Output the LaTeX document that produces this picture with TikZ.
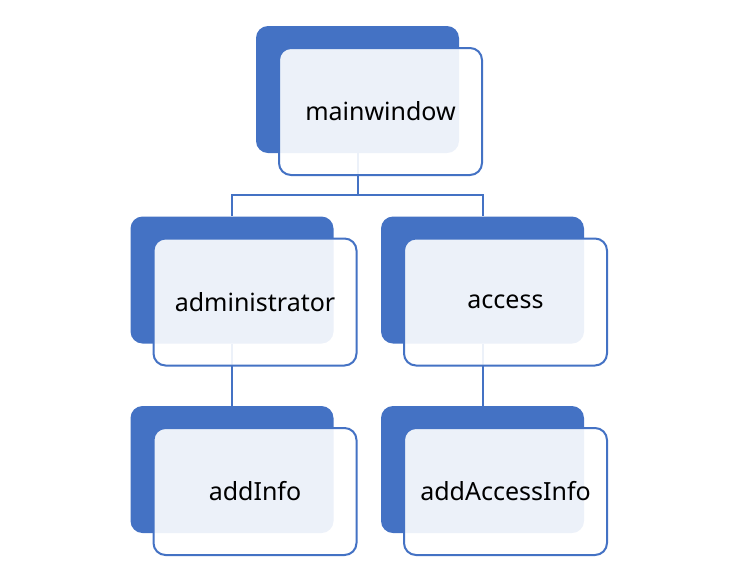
\documentclass[tikz,border=0pt]{standalone}
\usepackage{fontspec}
\setmainfont{Noto Sans}
\definecolor{boxblue}{RGB}{68,114,196}

\begin{document}
\begin{tikzpicture}[
		x=0.75pt,y=-0.75pt,
		back/.style={rectangle,rounded corners=9pt,fill=boxblue,inner sep=0pt,
			minimum width=152.25pt,minimum height=95.25pt},
		front/.style={rectangle,rounded corners=9pt,draw=boxblue,line width=1.5pt,
			fill=white,fill opacity=0.9,text opacity=1,inner sep=0pt,
			minimum width=152.25pt,minimum height=95.25pt,
			font=\fontsize{18.75}{22}\selectfont},
		link/.style={draw=boxblue,line width=1.5pt}
	]
	\useasboundingbox (0,0) rectangle (733,569);
	
	%the back boxes
		\foreach \n/\x/\y in {mainwindow/357.5/89.5, administrator/232/280, access/482.5/280, addInfo/232/469.5, addAccessInfo/482.5/469.5}
			\node[back] (\n-b) at (\x,\y) {};
	%edges
		\coordinate (fork) at (357.5,194.5);
		\draw[link] (mainwindow-b.south) -- (fork) -| (administrator-b.north);
		\draw[link] (fork) -| (access-b.north);
		\draw[link] (administrator-b.south) -- (addInfo-b.north);
		\draw[link] (access-b.south) -- (addAccessInfo-b.north);
	%the front boxes with the names
		\foreach \n in {mainwindow, administrator, access, addInfo, addAccessInfo}
			\node[front] (\n) at ([shift={(23,22)}]\n-b) {\n};
\end{tikzpicture}
\end{document}
